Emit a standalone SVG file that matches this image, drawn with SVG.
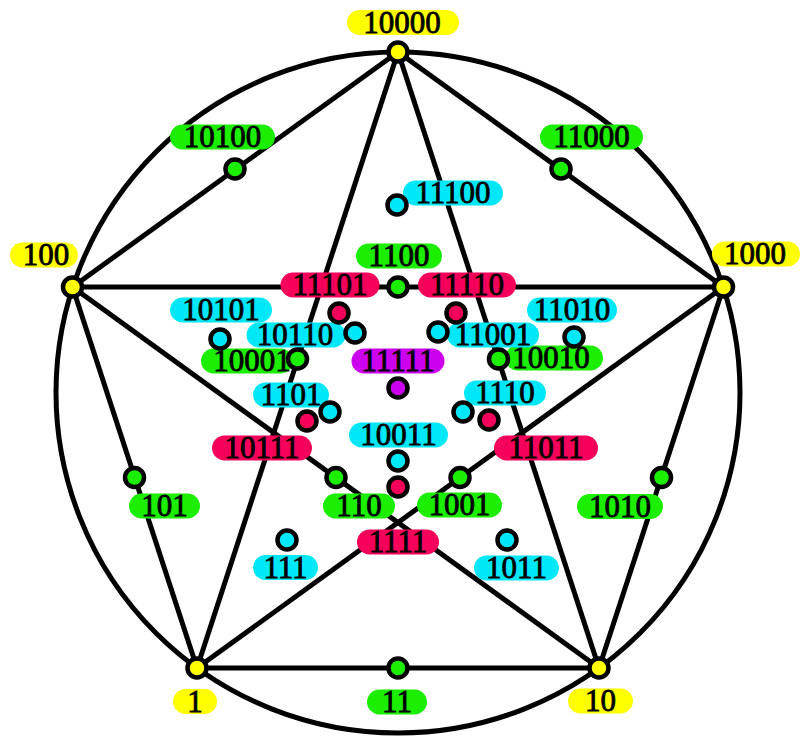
<svg xmlns="http://www.w3.org/2000/svg" width="802" height="736" viewBox="0 0 802 736">
  <style>
    .edge { fill: none; stroke: #000; stroke-width: 5; }
    .node { stroke: #000; stroke-width: 4.5; }
    .lbl rect { stroke: none; }
    .lbl text { font-family: "Liberation Serif", "Times New Roman", serif; font-size: 31px; fill: #000; stroke: #000; stroke-width: 0.8; text-anchor: middle; }
    .y { fill: #ffff00; }
    .g { fill: #1cee00; }
    .c { fill: #00e8f8; }
    .r { fill: #f5005a; }
    .m { fill: #cc00ee; }
  </style>

  <!-- outer circle and the ten pentagon / pentagram edges -->
  <g id="connectors">
    <ellipse class="edge" cx="398" cy="392.5" rx="342" ry="340.5"/>
    <line class="edge" x1="398" y1="52" x2="723.5" y2="287"/>
    <line class="edge" x1="723.5" y1="287" x2="599" y2="668"/>
    <line class="edge" x1="599" y1="668" x2="197" y2="668"/>
    <line class="edge" x1="197" y1="668" x2="72.5" y2="287"/>
    <line class="edge" x1="72.5" y1="287" x2="398" y2="52"/>
    <line class="edge" x1="398" y1="52" x2="197" y2="668"/>
    <line class="edge" x1="398" y1="52" x2="599" y2="668"/>
    <line class="edge" x1="72.5" y1="287" x2="723.5" y2="287"/>
    <line class="edge" x1="72.5" y1="287" x2="599" y2="668"/>
    <line class="edge" x1="723.5" y1="287" x2="197" y2="668"/>
  </g>

  <!-- labels -->
  <g id="labels">
    <g class="lbl" id="lbl-10000"><rect class="y" x="347" y="10" width="112" height="25" rx="12.5"/><text x="402" y="33">10000</text></g>
    <g class="lbl" id="lbl-100"><rect class="y" x="10" y="242.5" width="68" height="25" rx="12.5"/><text x="46" y="265">100</text></g>
    <g class="lbl" id="lbl-1000"><rect class="y" x="712" y="241.5" width="88" height="25" rx="12.5"/><text x="755" y="264">1000</text></g>
    <g class="lbl" id="lbl-1"><rect class="y" x="173" y="689" width="44" height="25" rx="12.5"/><text x="195" y="711.5">1</text></g>
    <g class="lbl" id="lbl-10"><rect class="y" x="568" y="688.5" width="65" height="25" rx="12.5"/><text x="600.5" y="711">10</text></g>

    <g class="lbl" id="lbl-10100"><rect class="g" x="170" y="124.5" width="105" height="25" rx="12.5"/><text x="222.5" y="147">10100</text></g>
    <g class="lbl" id="lbl-11000"><rect class="g" x="540" y="124.5" width="103" height="25" rx="12.5"/><text x="591.5" y="147">11000</text></g>
    <g class="lbl" id="lbl-1100"><rect class="g" x="356" y="243.5" width="86" height="25" rx="12.5"/><text x="399" y="266">1100</text></g>
    <g class="lbl" id="lbl-10001"><rect class="g" x="201" y="348.5" width="92" height="25" rx="12.5"/><text x="252" y="371">10001</text></g>
    <g class="lbl" id="lbl-10010"><rect class="g" x="505" y="345.5" width="98" height="25" rx="12.5"/><text x="551" y="368">10010</text></g>
    <g class="lbl" id="lbl-101"><rect class="g" x="129" y="493.5" width="71" height="25" rx="12.5"/><text x="164.5" y="516">101</text></g>
    <g class="lbl" id="lbl-110"><rect class="g" x="323" y="493.5" width="72" height="25" rx="12.5"/><text x="359" y="516">110</text></g>
    <g class="lbl" id="lbl-1001"><rect class="g" x="417" y="492.5" width="85" height="25" rx="12.5"/><text x="459.5" y="515">1001</text></g>
    <g class="lbl" id="lbl-1010"><rect class="g" x="577" y="494" width="86" height="25" rx="12.5"/><text x="620" y="516.5">1010</text></g>
    <g class="lbl" id="lbl-11"><rect class="g" x="367" y="689.5" width="60" height="25" rx="12.5"/><text x="397" y="712">11</text></g>

    <g class="lbl" id="lbl-11100"><rect class="c" x="403" y="180.5" width="100" height="25" rx="12.5"/><text x="453" y="203">11100</text></g>
    <g class="lbl" id="lbl-10101"><rect class="c" x="170" y="297.5" width="102" height="25" rx="12.5"/><text x="221" y="320">10101</text></g>
    <g class="lbl" id="lbl-10110"><rect class="c" x="246.5" y="322.5" width="99" height="25" rx="12.5"/><text x="295" y="345">10110</text></g>
    <g class="lbl" id="lbl-11001"><rect class="c" x="447" y="322.5" width="92" height="25" rx="12.5"/><text x="493" y="345">11001</text></g>
    <g class="lbl" id="lbl-11010"><rect class="c" x="527" y="297.5" width="90" height="25" rx="12.5"/><text x="572" y="320">11010</text></g>
    <g class="lbl" id="lbl-1101"><rect class="c" x="253" y="382.5" width="76" height="25" rx="12.5"/><text x="291" y="405">1101</text></g>
    <g class="lbl" id="lbl-1110"><rect class="c" x="464" y="380.5" width="82" height="25" rx="12.5"/><text x="505" y="403">1110</text></g>
    <g class="lbl" id="lbl-10011"><rect class="c" x="349" y="422.5" width="99" height="25" rx="12.5"/><text x="398.5" y="445">10011</text></g>
    <g class="lbl" id="lbl-111"><rect class="c" x="253" y="555" width="65" height="25" rx="12.5"/><text x="285.5" y="577.5">111</text></g>
    <g class="lbl" id="lbl-1011"><rect class="c" x="474" y="555.5" width="85" height="25" rx="12.5"/><text x="516.5" y="578">1011</text></g>

    <g class="lbl" id="lbl-11101"><rect class="r" x="280.5" y="272.5" width="99" height="25" rx="12.5"/><text x="330" y="295">11101</text></g>
    <g class="lbl" id="lbl-11110"><rect class="r" x="418" y="272.5" width="98" height="25" rx="12.5"/><text x="467" y="295">11110</text></g>
    <g class="lbl" id="lbl-10111"><rect class="r" x="212" y="435.5" width="100" height="25" rx="12.5"/><text x="262" y="458">10111</text></g>
    <g class="lbl" id="lbl-11011"><rect class="r" x="494" y="435.5" width="104" height="25" rx="12.5"/><text x="546" y="458">11011</text></g>
    <g class="lbl" id="lbl-1111"><rect class="r" x="357" y="529.5" width="82" height="25" rx="12.5"/><text x="398" y="552">1111</text></g>

    <g class="lbl" id="lbl-11111"><rect class="m" x="351.5" y="348.5" width="93" height="25" rx="12.5"/><text x="398" y="371">11111</text></g>
  </g>

  <!-- nodes -->
  <g id="nodes">
    <circle id="n-10000" class="node y" cx="398" cy="52" r="9.5"/>
    <circle id="n-100" class="node y" cx="72.5" cy="287" r="9.5"/>
    <circle id="n-1000" class="node y" cx="723.5" cy="287" r="9.5"/>
    <circle id="n-1" class="node y" cx="197" cy="668" r="9.5"/>
    <circle id="n-10" class="node y" cx="599" cy="668" r="9.5"/>

    <circle id="n-10100" class="node g" cx="235" cy="169" r="9.5"/>
    <circle id="n-11000" class="node g" cx="561" cy="169" r="9.5"/>
    <circle id="n-1100" class="node g" cx="398" cy="287" r="9.5"/>
    <circle id="n-10001" class="node g" cx="297.5" cy="359" r="9.5"/>
    <circle id="n-10010" class="node g" cx="498.5" cy="359" r="9.5"/>
    <circle id="n-101" class="node g" cx="134.5" cy="477.5" r="9.5"/>
    <circle id="n-1010" class="node g" cx="661.5" cy="477.5" r="9.5"/>
    <circle id="n-110" class="node g" cx="336" cy="477.5" r="9.5"/>
    <circle id="n-1001" class="node g" cx="460" cy="477.5" r="9.5"/>
    <circle id="n-11" class="node g" cx="398" cy="668" r="9.5"/>

    <circle id="n-11100" class="node c" cx="397" cy="205" r="9.5"/>
    <circle id="n-10101" class="node c" cx="220" cy="339" r="9.5"/>
    <circle id="n-10110" class="node c" cx="355" cy="333" r="9.5"/>
    <circle id="n-11001" class="node c" cx="438" cy="332" r="9.5"/>
    <circle id="n-11010" class="node c" cx="574" cy="337" r="9.5"/>
    <circle id="n-1101" class="node c" cx="330" cy="412" r="9.5"/>
    <circle id="n-1110" class="node c" cx="463" cy="412" r="9.5"/>
    <circle id="n-10011" class="node c" cx="398" cy="461" r="9.5"/>
    <circle id="n-111" class="node c" cx="287" cy="540" r="9.5"/>
    <circle id="n-1011" class="node c" cx="507" cy="540" r="9.5"/>

    <circle id="n-11101" class="node r" cx="339" cy="313" r="9.5"/>
    <circle id="n-11110" class="node r" cx="456" cy="313" r="9.5"/>
    <circle id="n-10111" class="node r" cx="307" cy="421" r="9.5"/>
    <circle id="n-11011" class="node r" cx="489" cy="420" r="9.5"/>
    <circle id="n-1111" class="node r" cx="398" cy="487" r="9.5"/>

    <circle id="n-11111" class="node m" cx="398" cy="388" r="9.5"/>
  </g>
</svg>
